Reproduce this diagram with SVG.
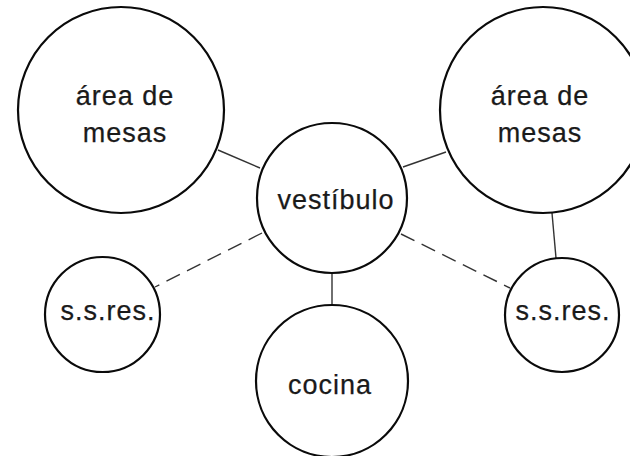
<svg xmlns="http://www.w3.org/2000/svg" width="630" height="456" viewBox="0 0 630 456">
<style>
.node{fill:#fff;stroke:#0a0a0a;stroke-width:2.2}
.lbl{font-family:"Liberation Sans",Arial,sans-serif;font-size:27px;letter-spacing:1px;fill:#1a1a1a;stroke:#1a1a1a;stroke-width:0.25;text-anchor:middle}
.ln{stroke:#333;stroke-width:1.4;fill:none}
.dash{stroke-dasharray:15 8}
</style>
<rect width="630" height="456" fill="#fff"/>
<g id="connectors">
<line class="ln" x1="218" y1="150" x2="260" y2="168"/>
<line class="ln" x1="403" y1="167" x2="446" y2="152"/>
<line class="ln" x1="552" y1="213" x2="556" y2="258"/>
<line class="ln" x1="332" y1="273" x2="332" y2="305"/>
<line class="ln dash" x1="262" y1="233" x2="155" y2="287"/>
<line class="ln dash" x1="401" y1="234" x2="510" y2="288"/>
</g>
<g id="area-mesas-1">
<circle class="node" cx="121" cy="110" r="103"/>
<text class="lbl" x="125" y="105">área de</text>
<text class="lbl" x="125" y="142">mesas</text>
</g>
<g id="area-mesas-2">
<circle class="node" cx="543" cy="110" r="103"/>
<text class="lbl" x="540" y="105">área de</text>
<text class="lbl" x="540" y="142">mesas</text>
</g>
<g id="vestibulo">
<circle class="node" cx="332" cy="198" r="75"/>
<text class="lbl" x="336" y="209">vestíbulo</text>
</g>
<g id="ssres-1">
<circle class="node" cx="102.5" cy="314.5" r="57.5"/>
<text class="lbl" x="108" y="320">s.s.res.</text>
</g>
<g id="ssres-2">
<circle class="node" cx="562" cy="315" r="57"/>
<text class="lbl" x="563" y="320">s.s.res.</text>
</g>
<g id="cocina">
<circle class="node" cx="332" cy="381" r="76"/>
<text class="lbl" x="330" y="394">cocina</text>
</g>
</svg>
